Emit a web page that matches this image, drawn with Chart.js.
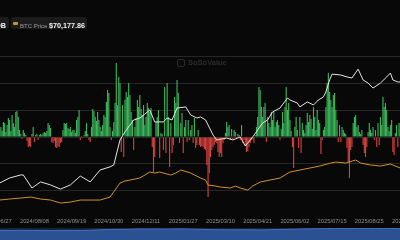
<!DOCTYPE html>
<html>
<head>
<meta charset="utf-8">
<script src="https://cdn.jsdelivr.net/npm/chart.js@4.4.1/dist/chart.umd.min.js"></script>
<style>
html, body { margin: 0; padding: 0; background: #080808; width: 400px; height: 240px; overflow: hidden; font-family: "Liberation Sans", Arial, sans-serif; }
#wrap { position: relative; width: 400px; height: 240px; overflow: hidden; }
#main { position: absolute; left: -40px; top: 0; }
#nav { position: absolute; left: 0; top: 228px; background: #17233d; }
.leg { position: absolute; top: 17px; height: 12px; background: #1b1b1b; border-radius: 3px; white-space: nowrap; line-height: 12px; }
.leg .lbl { color: #9a9a9a; font-size: 6px; }
.leg .val { color: #f2f2f2; font-size: 7.2px; font-weight: bold; }
.leg .mark { display: inline-block; width: 5px; height: 2.5px; border-radius: 1px; vertical-align: middle; margin: 0 2px 1px 2px; }
#mark { position: absolute; left: 177px; top: 58px; color: #2c2c2c; font-size: 7.5px; font-weight: bold; }
#mark .cube { display: inline-block; width: 6px; height: 6px; border: 1.5px solid #2c2c2c; border-radius: 2px; vertical-align: middle; margin-right: 3px; }
</style>
</head>
<body>
<div id="wrap">
  <canvas id="main" width="480" height="240"></canvas>
  <canvas id="nav" width="400" height="12"></canvas>
  <div class="leg" style="left:-112px;width:118px;text-align:right;padding-right:3px;">
    <span class="mark" style="background:#e8e8e8"></span><span class="lbl">Cumulative Total Net Inflow </span><span class="val">$57.10B</span>
  </div>
  <div class="leg" style="left:11px;width:76px;">
    <span class="mark" style="background:#b89a35"></span><span class="lbl">BTC Price </span><span class="val">$70,177.86</span>
  </div>
  <div id="mark"><span class="cube"></span>SoSoValue</div>
</div>
<script>
// x axis: trading-day index, one date label every 30 days
const tickDays = [0, 30, 60, 90, 120, 150, 180, 210, 240, 270, 300, 330];
const tickLabels = ["2024/06/27", "2024/08/08", "2024/09/19", "2024/10/30", "2024/12/11", "2025/01/27",
  "2025/03/10", "2025/04/21", "2025/06/02", "2025/07/15", "2025/08/25", "2025/10/06"];
const gridVals = [-1000, -500, 0, 500, 1000, 1500];

// daily total net inflow, $M, from day 2 onward
const flowStart = 2;
const flows = [
  150, 187, 112, 281, 262, 94, 224, 355, 318, 112,
  411, 262, 187, 468, 486, 374, 131, 56, -37, 131,
  75, 37, -75, -187, -168, -187, 56, 187, -94, 37,
  56, -56, 37, 56, 37, 75, 94, 75, 112, 262,
  224, 168, -94, -112, -75, -187, -206, -168, -187, -112,
  -94, 131, 262, 243, 262, 168, 150, 187, 94, 131,
  131, 75, 318, 374, 505, -56, 19, -19, 37, 112,
  262, 56, -56, -94, 187, 524, 486, 374, 299, 468,
  318, 187, 112, 224, 411, 374, 655, 879, 823, 187,
  -56, 112, 281, 636, 1384, 598, 1122, 1010, -281, 598,
  -374, 692, 842, 748, 1010, 785, 468, 318, -243, 187,
  355, 692, 561, 785, 524, 411, 598, 224, 374, 636,
  542, 468, 542, -187, -655, -374, 281, 374, 505, -393,
  75, 56, -243, 935, -299, 1010, 374, -561, 262, -299,
  -150, 748, 636, 1066, 823, -112, 262, 449, -299, 187,
  318, -94, 318, -56, 131, 224, -112, 355, -206, -150,
  131, -150, -187, -168, -187, -224, -243, -524, -1122, -673,
  -374, -243, -187, -150, -94, -112, -281, -374, -299, -374,
  -112, -56, 75, 281, 187, 224, -56, 150, -37, 131,
  94, -37, 56, 37, -56, 224, -112, -56, -150, -281,
  -262, -187, -112, -56, -37, -112, 37, 187, 374, 935,
  879, 561, 374, 561, 636, -94, 374, 262, 187, 468,
  318, 468, 187, 281, 318, 224, -56, 150, 468, 262,
  561, 935, 505, 636, 318, 112, -187, -580, 187, 374,
  131, -206, 374, -299, 262, 131, 75, 224, 449, 281,
  411, 337, 150, 561, 374, 131, 505, 318, 262, -318,
  -56, 131, 187, 561, 1010, 1197, 842, 692, 561, 785,
  823, 505, 318, -94, 224, -94, 187, 131, 75, 56,
  -206, -468, -767, -243, -187, 262, 374, 411, 187, 224,
  94, 56, 131, -150, -299, -374, -187, 94, 262, 131,
  75, 187, -56, 131, -187, 262, -150, 374, 224, 748,
  561, 636, 505, 187, 112, 224, 318, -281, -337, 75,
  224, -187, 262, 150
];

// cumulative total net inflow, $B
const inflowDays = [2, 10, 19, 21, 28, 35, 43, 51, 59, 67, 75, 83, 91, 94, 99, 103, 110, 115, 119, 123,
  127, 134, 137, 141, 145, 152, 156, 161, 164, 168, 172, 174, 177, 185, 190, 196, 200, 206, 210, 214,
  218, 222, 228, 234, 236, 242, 244, 250, 255, 259, 263, 265, 268, 270, 277, 282, 286, 291, 295, 299,
  303, 309, 314, 317, 319, 323, 325];
const inflowVals = [14.5, 16.3, 17.4, 17.4, 12.7, 14.9, 13.8, 12.3, 13.8, 17.0, 14.9, 19.2, 20.3, 21.0, 30.0, 32.9, 37.2, 37.9, 39.3, 40.8,
  36.5, 36.5, 37.9, 37.2, 41.5, 41.9, 39.0, 37.9, 38.3, 37.2, 33.6, 31.8, 30.0, 30.7, 30.0, 31.1, 27.8, 31.1, 33.6, 36.1,
  37.2, 40.1, 41.5, 45.1, 44.4, 43.3, 41.9, 43.7, 42.6, 44.4, 45.5, 47.3, 51.6, 53.7, 53.4, 52.7, 52.3, 55.5, 51.6, 50.5,
  48.7, 50.5, 52.7, 54.1, 51.6, 50.9, 50.9];

// BTC price, USD
const priceDays = [2, 10, 19, 27, 35, 43, 51, 59, 67, 75, 83, 91, 95, 99, 103, 107, 115, 123, 127, 131,
  140, 144, 148, 156, 164, 168, 170, 176, 180, 188, 192, 196, 202, 206, 212, 220, 228, 236, 244, 252,
  260, 269, 273, 281, 289, 293, 301, 309, 317, 325];
const priceVals = [61000, 62550, 64100, 65650, 62550, 61000, 56350, 57900, 61000, 61000, 61000, 65650, 76500, 87350, 90450, 92000, 95100, 104400, 102850, 104400,
  99750, 102850, 107500, 102850, 95100, 92000, 84250, 82700, 81150, 79600, 82700, 79600, 76500, 82700, 88900, 92000, 95100, 104400, 107500, 110600,
  113700, 118350, 119900, 118350, 123000, 118350, 115250, 113700, 116800, 110600];

const GREEN = "#3bb85c";
const RED = "#d8423d";

function pts(days, vals){
  return days.map((d, i) => ({ x: d, y: vals[i] }));
}

new Chart(document.getElementById("main"), {
  type: "bar",
  data: {
    datasets: [
      { type: "line", label: "Cumulative Total Net Inflow", data: pts(inflowDays, inflowVals), yAxisID: "yInflow",
        borderColor: "#e6e6e6", borderWidth: 1, pointRadius: 0, order: 1 },
      { type: "line", label: "BTC Price", data: pts(priceDays, priceVals), yAxisID: "yPrice",
        borderColor: "#d3922c", borderWidth: 1, pointRadius: 0, order: 2 },
      { type: "bar", label: "Total Daily Net Inflow", data: flows.map((v, i) => ({ x: flowStart + i, y: v })), yAxisID: "y",
        backgroundColor: flows.map((v) => v >= 0 ? GREEN : RED), barPercentage: 0.9, categoryPercentage: 1, order: 3 },
    ],
  },
  options: {
    responsive: false,
    animation: false,
    layout: { padding: { top: 30, bottom: 3, left: 0, right: 0 } },
    plugins: { legend: { display: false }, tooltip: { enabled: false } },
    scales: {
      x: {
        type: "linear", min: -30, max: 357, offset: false,
        grid: { display: false, drawTicks: false }, border: { display: false },
        afterBuildTicks: (s) => { s.ticks = tickDays.map((v) => ({ value: v })); },
        ticks: { autoSkip: false, maxRotation: 0, padding: 12, color: "#8f8f8f", font: { size: 5.8 },
          callback: (v) => tickLabels[tickDays.indexOf(v)] ?? "" },
      },
      y: {
        min: -1292, max: 2004,
        grid: { color: "#262626", drawTicks: false }, border: { display: false },
        ticks: { display: false },
        afterBuildTicks: (s) => { s.ticks = gridVals.map((v) => ({ value: v })); },
      },
      yPrice: { display: false, min: 51700, max: 324500 },
      yInflow: { display: false, min: 6.2, max: 69.6 },
    },
  },
});

new Chart(document.getElementById("nav"), {
  type: "line",
  data: { labels: priceDays, datasets: [{ data: priceVals, fill: "start", backgroundColor: "#2b5193",
    borderColor: "#4272c0", borderWidth: 1, pointRadius: 0 }] },
  options: {
    responsive: false, animation: false,
    layout: { padding: 0 },
    plugins: { legend: { display: false }, tooltip: { enabled: false } },
    scales: { x: { display: false }, y: { display: false, min: -200000, max: 130000 } },
  },
});
</script>
</body>
</html>
